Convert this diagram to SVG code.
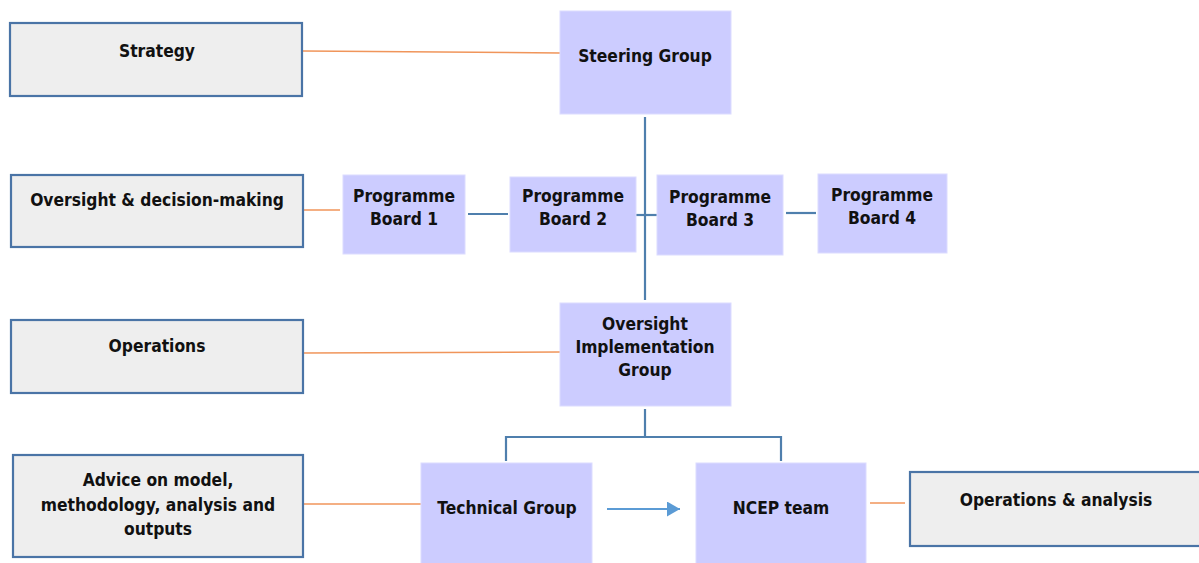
<svg xmlns="http://www.w3.org/2000/svg" width="1199" height="563" viewBox="0 0 1199 563">
<style>
.lab{fill:#eeeeee;stroke:#4a74a6;stroke-width:2.2}
.node{fill:#ccccff;stroke:#dcdcff;stroke-width:1}
text{font-family:"DejaVu Sans",Verdana,sans-serif;font-weight:bold;font-size:17.3px;fill:#111;text-anchor:middle;font-stretch:condensed}
.or{stroke:#f0955a;stroke-width:1.5;fill:none}
.bl{stroke:#4f7fad;stroke-width:2.2;fill:none}
</style>
<defs>
<marker id="ah" viewBox="0 0 13 15" refX="13" refY="7.5" markerWidth="13" markerHeight="15" orient="auto" markerUnits="userSpaceOnUse"><path d="M0,0 L13,7.5 L0,15 z" fill="#5b9bd5"/></marker>
</defs>
<rect width="1199" height="563" fill="#ffffff"/>
<g id="connectors">
<line class="or" x1="303" y1="51" x2="560" y2="53"/>
<line class="or" x1="304" y1="210" x2="340" y2="210"/>
<line class="or" x1="304" y1="353" x2="560" y2="352"/>
<line class="or" x1="304" y1="504" x2="421" y2="504"/>
<line class="or" x1="870" y1="503" x2="905" y2="503"/>
<line class="bl" x1="645" y1="117" x2="645" y2="300"/>
<line class="bl" x1="468" y1="214" x2="508" y2="214"/>
<line class="bl" x1="636" y1="215" x2="657" y2="215"/>
<line class="bl" x1="786" y1="213" x2="816" y2="213"/>
<polyline class="bl" points="645,409 645,437"/>
<polyline class="bl" points="506,461 506,437 781,437 781,461"/>
<line x1="607" y1="509" x2="680" y2="509" stroke="#5b9bd5" stroke-width="2" marker-end="url(#ah)"/>
</g>
<g id="strategy"><rect class="lab" x="10" y="23" width="292" height="73"/><text x="157" y="57">Strategy</text></g>
<g id="oversight-decision"><rect class="lab" x="11" y="175" width="292" height="72"/><text x="157" y="206">Oversight &amp; decision-making</text></g>
<g id="operations"><rect class="lab" x="11" y="320" width="292" height="73"/><text x="157" y="352">Operations</text></g>
<g id="advice"><rect class="lab" x="13" y="455" width="290" height="102"/><text x="158" y="486">Advice on model,</text><text x="158" y="511">methodology, analysis and</text><text x="158" y="535">outputs</text></g>
<g id="operations-analysis"><rect class="lab" x="910" y="472" width="295" height="74"/><text x="1056" y="506">Operations &amp; analysis</text></g>
<g id="steering"><rect class="node" x="560" y="11" width="171" height="103"/><text x="645" y="62">Steering Group</text></g>
<g id="pb1"><rect class="node" x="343" y="175" width="122" height="79"/><text x="404" y="202">Programme</text><text x="404" y="225">Board 1</text></g>
<g id="pb2"><rect class="node" x="510" y="177" width="126" height="75"/><text x="573" y="202">Programme</text><text x="573" y="225">Board 2</text></g>
<g id="pb3"><rect class="node" x="657" y="175" width="126" height="80"/><text x="720" y="203">Programme</text><text x="720" y="226">Board 3</text></g>
<g id="pb4"><rect class="node" x="818" y="174" width="129" height="79"/><text x="882" y="201">Programme</text><text x="882" y="224">Board 4</text></g>
<g id="oig"><rect class="node" x="560" y="303" width="171" height="103"/><text x="645" y="330">Oversight</text><text x="645" y="353">Implementation</text><text x="645" y="376">Group</text></g>
<g id="technical"><rect class="node" x="421" y="463" width="171" height="102"/><text x="507" y="514">Technical Group</text></g>
<g id="ncep"><rect class="node" x="696" y="463" width="170" height="102"/><text x="781" y="514">NCEP team</text></g>
</svg>
